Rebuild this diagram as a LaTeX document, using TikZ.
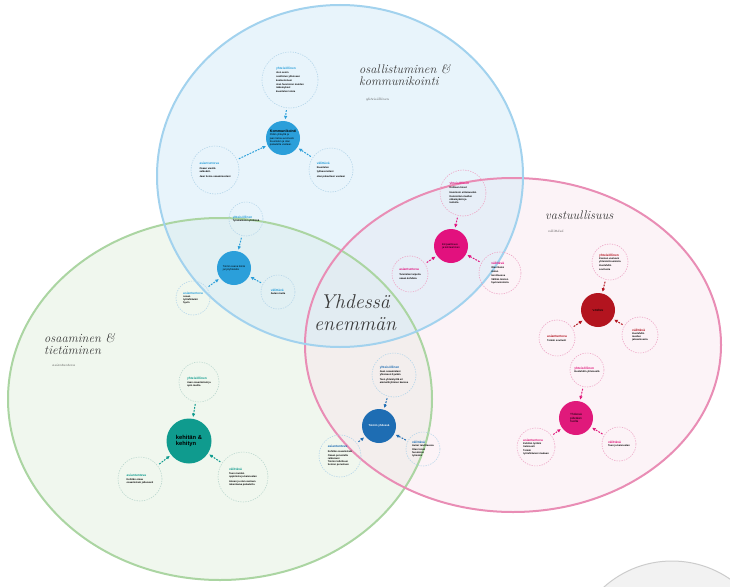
\documentclass[tikz,border=0pt]{standalone}
\usepackage{fontspec}
\usetikzlibrary{arrows.meta}
\newfontfamily\smallsans{Liberation Sans}

% palette
\definecolor{skyline}{HTML}{A2D2EE}
\definecolor{skyfill}{HTML}{D3EBF8}
\definecolor{leafline}{HTML}{ABD5A2}
\definecolor{leaffill}{HTML}{DDEDD7}
\definecolor{roseline}{HTML}{E98DB5}
\definecolor{rosefill}{HTML}{F9E1EC}
\definecolor{hubsky}{HTML}{2B9FDA}
\definecolor{hubmag}{HTML}{E2117E}
\definecolor{hubred}{HTML}{B3141F}
\definecolor{hubpink}{HTML}{E0197B}
\definecolor{hubnavy}{HTML}{1E6DB3}
\definecolor{hubteal}{HTML}{0F9B8E}
\definecolor{bubsky}{HTML}{B5D6EA}
\definecolor{bubrose}{HTML}{EEA6C6}
\definecolor{bubteal}{HTML}{BCD8CF}
\definecolor{inkgray}{HTML}{3A3A3A}

\newcommand\bt[2]{\textcolor{#1}{\fontsize{3.2}{4}\selectfont\bfseries #2}}

\tikzset{
  hub/.style={circle, fill=#1, minimum size=34pt, inner sep=0pt, align=left,
    font=\smallsans\fontsize{2.6}{3.2}\selectfont},
  bub/.style={circle, draw=#1, dash pattern=on 1.3pt off 1.2pt, line width=0.6pt,
    inner sep=0pt, align=left, font=\smallsans\bfseries\fontsize{2.5}{3.2}\selectfont},
  link/.style={draw=#1, dash pattern=on 1.8pt off 1.2pt, line width=1pt,
    -{Latex[length=3.6pt,width=3.6pt]}, shorten >=1.5pt, shorten <=2pt},
  heading/.style={font=\itshape\fontsize{12.5}{12}\selectfont, text=inkgray,
    align=left, inner sep=0pt},
  subhead/.style={font=\itshape\fontsize{3.5}{4}\selectfont, text=inkgray, inner sep=0pt},
}

\begin{document}
\begin{tikzpicture}[x=1pt, y=-1pt]
\useasboundingbox (0,0) rectangle (730,586);
\clip (0,0) rectangle (730,586);
\fill[white] (0,0) rectangle (730,586);

% side circle at the lower right corner
\filldraw[fill=black!5, draw=black!20, line width=1pt] (672,663) circle [radius=102pt];

% the three overlapping areas
\fill[leaffill, fill opacity=0.42] (220,399) ellipse [x radius=212pt, y radius=181pt];
\fill[rosefill, fill opacity=0.4] (513,345) ellipse [x radius=208pt, y radius=167pt];
\fill[skyfill, fill opacity=0.5] (340,176) ellipse [x radius=183pt, y radius=171pt];
\draw[leafline, line width=2pt] (220,399) ellipse [x radius=212pt, y radius=181pt];
\draw[roseline, line width=2pt] (513,345) ellipse [x radius=208pt, y radius=167pt];
\draw[skyline, line width=2pt] (340,176) ellipse [x radius=183pt, y radius=171pt];

% area headings
\node[heading, anchor=north west] (hA) at (359,64) {osallistuminen \&\\kommunikointi};
\node[subhead, anchor=west] (sA) at (366,100) {yhteisöllinen};
\node[heading, anchor=north west] (hB) at (545,211) {vastuullisuus};
\node[subhead, anchor=west] (sB) at (548,231) {välittävä};
\node[heading, anchor=north west] (hC) at (44,333) {osaaminen \&\\tietäminen};
\node[subhead, anchor=west] (sC) at (52,365) {asiantunteva};
\node[font=\itshape\fontsize{20}{22}\selectfont, text=inkgray, align=center, inner sep=0pt]
  (motto) at (355,313) {Yhdessä\\enemmän};

% ---- kommunikointi
\node[hub=hubsky] (k) at (283,138) {\textbf{\fontsize{3.6}{4.2}\selectfont Kommunikointi}\\Pidän yhteyttä ja\\jaan tietoa avoimesti.\\Kuuntelen ja otan\\palautetta vastaan.};
\node[bub=bubsky, minimum size=56pt] (kT) at (290,80) {\bt{hubsky}{yhteisöllinen}\\[1pt]olen avoin\\[1pt]osallistun yhteiseen\\keskusteluun\\[1pt]otan huomioon muiden\\näkemykset\\[1pt]kuuntelen toisia};
\node[bub=bubsky, minimum size=48pt] (kL) at (215,170) {\bt{hubsky}{asiantunteva}\\[1pt]Osaan viestiä\\selkeästi.\\[2pt]Jaan tietoa osaamisestani};
\node[bub=bubsky, minimum size=44pt] (kR) at (331,170) {\bt{hubsky}{välittävä}\\[1pt]Kuuntelen\\työkavereitani\\[2pt]otan palautteen vastaan};
\draw[link=hubsky] (kT) -- (k);
\draw[link=hubsky] (kL) -- (k);
\draw[link=hubsky] (kR) -- (k);

% ---- yhteistyö
\node[hub=hubsky] (y) at (234,268) {Toimin osana tiimiä\\ja työyhteisöä};
\node[bub=bubsky, minimum size=34pt] (yT) at (246,219) {\bt{hubsky}{yhteisöllinen}\\Työskentelen yhdessä};
\node[bub=bubsky, minimum size=34pt] (yR) at (278,292) {\bt{hubsky}{välittävä}\\Autan muita};
\node[bub=bubsky, minimum size=34pt] (yL) at (193,298) {\bt{hubsky}{asiantunteva}\\osaan\\työtehtäväni\\hyvin};
\draw[link=hubsky] (yT) -- (y);
\draw[link=hubsky] (yL) -- (y);
\draw[link=hubsky] (yR) -- (y);

% ---- empatia
\node[hub=hubmag] (e) at (451,246) {Empaattisuus\\ja kohtaaminen};
\node[bub=bubrose, minimum size=46pt] (eT) at (463,193) {\bt{hubmag}{yhteisöllinen}\\[1pt]Kohtaan toiset\\[1pt]Huomioin erilaisuuden\\[1pt]Kunnioitan muiden\\näkemyksiä ja\\tunteita};
\node[bub=bubrose, minimum size=36pt] (eL) at (410,274) {\bt{hubmag}{asiantunteva}\\[1pt]Tunnistan tarpeita\\[1pt]osaan kohdata};
\node[bub=bubrose, minimum size=42pt] (eR) at (500,273) {\bt{hubmag}{välittävä}\\[1pt]Olen läsnä\\[1pt]Autan\\tarvittaessa\\[1pt]Välitän toisten\\hyvinvoinnista};
\draw[link=hubmag] (eT) -- (e);
\draw[link=hubmag] (eL) -- (e);
\draw[link=hubmag] (eR) -- (e);

% ---- vastuu
\node[hub=hubred, font=\smallsans\fontsize{3.6}{4}\selectfont] (v) at (598,310) {vastuu};
\node[bub=bubrose, minimum size=36pt] (vT) at (610,262) {\bt{hubred}{yhteisöllinen}\\Kannan vastuuni\\yhteisistä asioista\\[1pt]Huolehdin\\sovitusta};
\node[bub=bubrose, minimum size=36pt] (vL) at (557,338) {\bt{hubred}{asiantunteva}\\[1pt]Toimin sovitusti};
\node[bub=bubrose, minimum size=36pt] (vR) at (640,335) {\bt{hubred}{välittävä}\\Huolehdin\\muiden\\jaksamisesta};
\draw[link=hubred] (vT) -- (v);
\draw[link=hubred] (vL) -- (v);
\draw[link=hubred] (vR) -- (v);

% ---- huolenpito
\node[hub=hubpink, font=\smallsans\fontsize{3}{3.8}\selectfont] (h) at (576,418) {Yhdessä\\pidetään\\huolta};
\node[bub=bubrose, minimum size=34pt] (hT) at (587,370) {\bt{hubpink}{yhteisöllinen}\\Huolehdin yhteisestä};
\node[bub=bubrose, minimum size=38pt] (hL) at (536,447) {\bt{hubpink}{asiantunteva}\\Kehitän työtäni\\tietoisesti\\[1pt]Toimin\\työtehtävieni mukaan};
\node[bub=bubrose, minimum size=34pt] (hR) at (619,444) {\bt{hubpink}{välittävä}\\Tuen ja kannustan};
\draw[link=hubpink] (hT) -- (h);
\draw[link=hubpink] (hL) -- (h);
\draw[link=hubpink] (hR) -- (h);

% ---- toiminta yhdessä
\node[hub=hubnavy, text=white, font=\smallsans\bfseries\fontsize{2.8}{3.4}\selectfont] (t) at (379,426) {Toimin yhdessä};
\node[bub=bubsky, minimum size=44pt] (tT) at (394,375) {\bt{hubnavy}{yhteisöllinen}\\[1pt]Jaan osaamistani\\yhteiseen hyvään\\[1pt]Teen yhteistyötä eri\\ammattiryhmien kanssa};
\node[bub=bubsky, minimum size=42pt] (tL) at (340,456) {\bt{hubnavy}{asiantunteva}\\[1pt]Kehitän osaamistani\\[1pt]Osaan perustella\\ratkaisuni\\Toimin tutkittuun\\tietoon perustuen};
\node[bub=bubsky, minimum size=34pt] (tR) at (423,449) {\bt{hubnavy}{välittävä}\\Autan tarvittaessa\\[1pt]Otan toiset\\huomioon\\työssäni};
\draw[link=hubnavy] (tT) -- (t);
\draw[link=hubnavy] (tL) -- (t);
\draw[link=hubnavy] (tR) -- (t);

% ---- kehittyminen
\node[hub=hubteal, minimum size=45pt, font=\smallsans\bfseries\fontsize{5.8}{6.8}\selectfont] (d) at (189,441) {kehitän \&\\kehityn};
\node[bub=bubteal, minimum size=40pt] (dT) at (199,382) {\bt{hubteal}{yhteisöllinen}\\[1pt]Jaan osaamistani ja\\opin muilta};
\node[bub=bubteal, minimum size=44pt] (dL) at (140,479) {\bt{hubteal}{asiantunteva}\\[1pt]Kehitän omaa\\osaamistani jatkuvasti};
\node[bub=bubteal, minimum size=50pt] (dR) at (243,477) {\bt{hubteal}{välittävä}\\[1pt]Tuen muiden\\oppimista ja kannustan\\[1pt]Annan ja otan vastaan\\rakentavaa palautetta};
\draw[link=hubteal] (dT) -- (d);
\draw[link=hubteal] (dL) -- (d);
\draw[link=hubteal] (dR) -- (d);
\end{tikzpicture}
\end{document}
